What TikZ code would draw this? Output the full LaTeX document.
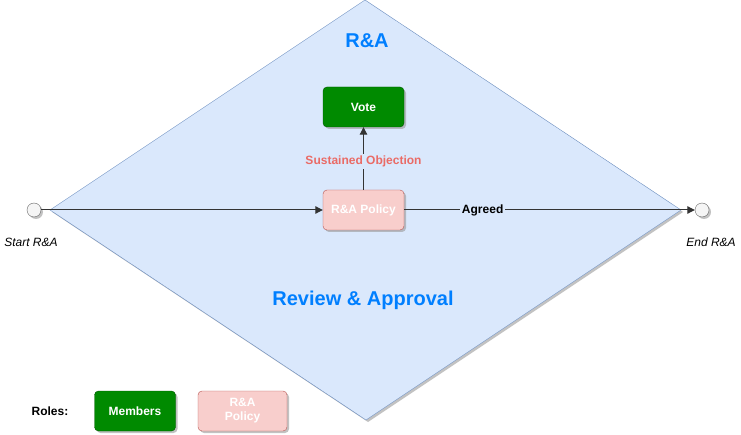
\documentclass[tikz,border=0pt]{standalone}
\usepackage{fontspec}
\setmainfont{Liberation Sans}
\usetikzlibrary{shadows,arrows.meta}
\definecolor{dfill}{HTML}{DAE8FC}
\definecolor{dline}{HTML}{6C8EBF}
\definecolor{gfill}{HTML}{008A00}
\definecolor{gline}{HTML}{005700}
\definecolor{pfill}{HTML}{F8CECC}
\definecolor{pline}{HTML}{B85450}
\definecolor{ttblue}{HTML}{007FFF}
\definecolor{objred}{HTML}{EA6B66}
\definecolor{cfill}{HTML}{F5F5F5}
\definecolor{cline}{HTML}{666666}
\definecolor{conn}{HTML}{333333}
\tikzset{
  x=1pt,y=-1pt,
  shad/.style={drop shadow={shadow xshift=2pt,shadow yshift=-2pt,fill=black!40,opacity=0.6}},
  greenbox/.style={draw=gline,fill=gfill,rounded corners=4pt,minimum width=81pt,minimum height=40pt,text=white,font=\fontsize{12}{14}\selectfont\bfseries,align=center,shad},
  pinkbox/.style={draw=pline,fill=pfill,rounded corners=4pt,minimum width=81pt,minimum height=40pt,text=white,font=\fontsize{12}{14}\selectfont\bfseries,align=center,shad},
  evt/.style={circle,draw=cline,fill=cfill,minimum size=14pt,inner sep=0pt,shad},
  conn/.style={draw=conn,line width=1pt,-{Triangle[length=7.5pt,width=7.5pt]}},
  small/.style={font=\fontsize{12}{14}\selectfont\itshape},
  lbl/.style={fill=dfill,font=\fontsize{12}{14}\selectfont\bfseries,inner sep=2pt}
}
\begin{document}
\begin{tikzpicture}
\useasboundingbox (0,0) rectangle (741,435);
\draw[draw=dline,fill=dfill,shad] (365,0) -- (681,210) -- (366,420) -- (50,210) -- cycle;
\node[font=\fontsize{20}{24}\selectfont\bfseries,text=ttblue] (title) at (367,41) {R\&A};
\node[font=\fontsize{20}{24}\selectfont\bfseries,text=ttblue] (rev) at (363,300) {Review \& Approval};
\node[evt] (start) at (34,210) {};
\node[evt] (end) at (702,210) {};
\node[small] (startl) at (31,242) {Start R\&A};
\node[small] (endl) at (711,242) {End R\&A};
\node[greenbox] (vote) at (363.5,107) {Vote};
\node[pinkbox] (pol) at (363.5,210) {R\&A Policy};
\draw[conn] (start) -- (pol);
\draw[conn] (pol) -- node[lbl,text=black,pos=0.27] (agr) {Agreed} (end);
\draw[conn] (pol) -- node[lbl,text=objred,pos=0.45] (obj) {Sustained Objection} (vote);
\node[font=\fontsize{12}{14}\selectfont\bfseries] (roles) at (50,411) {Roles:};
\node[greenbox] (mem) at (135,411) {Members};
\node[pinkbox,minimum width=89pt] (rpol) at (242.5,411) {R\&A\\Policy};
\end{tikzpicture}
\end{document}
